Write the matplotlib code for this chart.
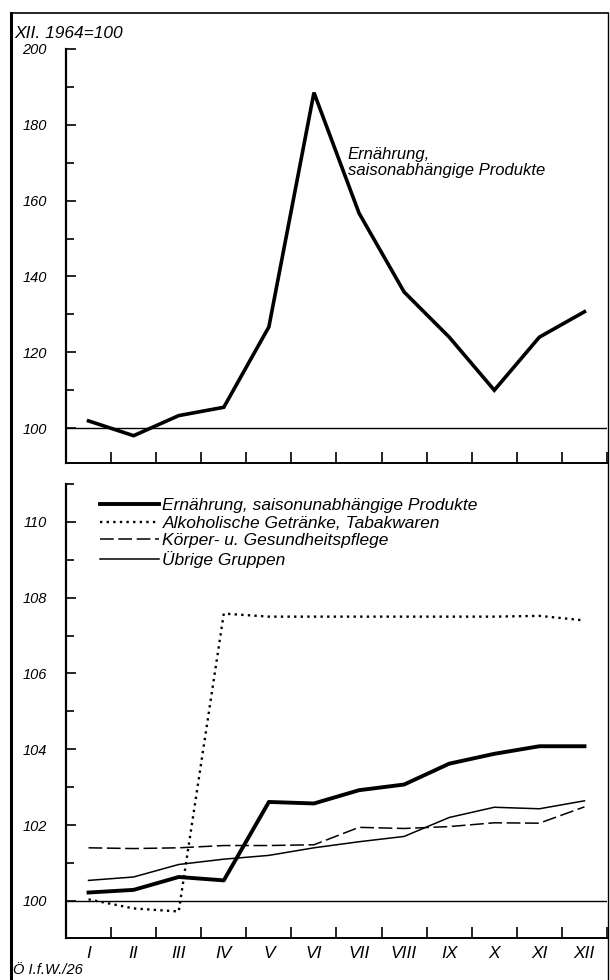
import matplotlib.pyplot as plt
from matplotlib.lines import Line2D
from matplotlib.ticker import FixedLocator, MultipleLocator

plt.rcParams['font.family'] = ['Liberation Sans', 'DejaVu Sans']
plt.rcParams['font.style'] = 'italic'

# Monate I..XII, Index XII. 1964 = 100
monate = ["I", "II", "III", "IV", "V", "VI", "VII", "VIII", "IX", "X", "XI", "XII"]
m = list(range(1, 13))

saisonabh = [101.9, 98.0, 103.3, 105.5, 126.7, 188.5, 156.7, 135.9, 124.0, 110.0, 124.0, 130.7]

saisonunabh = [100.22, 100.29, 100.63, 100.54, 102.61, 102.57, 102.92, 103.07, 103.62, 103.88, 104.08, 104.08]
alkohol = [100.04, 99.8, 99.72, 107.58, 107.5, 107.5, 107.5, 107.5, 107.5, 107.5, 107.52, 107.4]
koerper = [101.4, 101.38, 101.4, 101.46, 101.46, 101.48, 101.94, 101.91, 101.96, 102.06, 102.05, 102.48]
uebrige = [100.54, 100.63, 100.96, 101.1, 101.2, 101.4, 101.56, 101.7, 102.2, 102.47, 102.43, 102.64]

fig = plt.figure(figsize=(6.1, 9.8), dpi=100)
W, H = 610, 980


def ax_at(x0, y0, x1, y1):
    return fig.add_axes([x0 / W, 1 - y1 / H, (x1 - x0) / W, (y1 - y0) / H])


def style(ax, labels):
    for s in ("top", "right"):
        ax.spines[s].set_visible(False)
    ax.spines["left"].set_linewidth(1.6)
    ax.spines["bottom"].set_linewidth(1.4)
    ax.set_xlim(0.5, 12.5)
    ax.xaxis.set_major_locator(FixedLocator(m))
    ax.xaxis.set_minor_locator(FixedLocator([i + 0.5 for i in m]))
    ax.tick_params(axis="x", which="major", length=0, pad=6, labelsize=12.5)
    ax.tick_params(axis="x", which="minor", direction="in", length=8, width=1.2)
    ax.set_xticklabels(monate if labels else [])
    ax.tick_params(axis="y", which="both", direction="in", width=1.2, labelsize=10.5, pad=14)
    ax.tick_params(axis="y", which="major", length=7)
    ax.tick_params(axis="y", which="minor", length=6)
    ax.axhline(100, color="black", lw=1.0, zorder=1)


# oberes Diagramm
ax1 = ax_at(66, 49, 607, 463)
style(ax1, False)
ax1.set_ylim(90.8, 200)
ax1.yaxis.set_major_locator(MultipleLocator(20))
ax1.yaxis.set_minor_locator(MultipleLocator(10))
ax1.plot(m, saisonabh, color="black", lw=2.6, solid_joinstyle="miter")
ax1.text(6.75, 170, "Ernährung,\nsaisonabhängige Produkte", fontsize=12,
         ha="left", va="center", linespacing=1.05)

# unteres Diagramm
ax2 = ax_at(66, 484, 607, 938)
style(ax2, True)
ax2.set_ylim(99.02, 111.0)
ax2.yaxis.set_major_locator(MultipleLocator(2))
ax2.yaxis.set_minor_locator(MultipleLocator(1))
ax2.plot(m, saisonunabh, color="black", lw=2.8, label="Ernährung, saisonunabhängige Produkte")
ax2.plot(m, alkohol, color="black", lw=1.7, linestyle=(0, (1, 1.8)),
         label="Alkoholische Getränke, Tabakwaren")
ax2.plot(m, koerper, color="black", lw=1.1, linestyle=(0, (9, 3)),
         label="Körper- u. Gesundheitspflege")
ax2.plot(m, uebrige, color="black", lw=1.1, label="Übrige Gruppen")
ax2.legend(loc="upper left", bbox_to_anchor=(0.05, 0.985), frameon=False,
           fontsize=12.5, handlelength=3.4, handletextpad=0.2, labelspacing=0.15,
           borderaxespad=0)

# Texte und Rahmen
fig.text(14 / W, 1 - 33 / H, "XII. 1964=100", fontsize=12.5, va="center", ha="left")
fig.text(13 / W, 1 - 970 / H, "Ö I.f.W./26", fontsize=10.5, va="center", ha="left")
fig.add_artist(Line2D([11 / W, 11 / W], [0, 1 - 13 / H], color="black", lw=2.2))
fig.add_artist(Line2D([11 / W, 608 / W], [1 - 13 / H, 1 - 13 / H], color="black", lw=1.2))
fig.add_artist(Line2D([608 / W, 608 / W], [0, 1 - 13 / H], color="black", lw=1.0))

fig.savefig("out.png", dpi=100)
